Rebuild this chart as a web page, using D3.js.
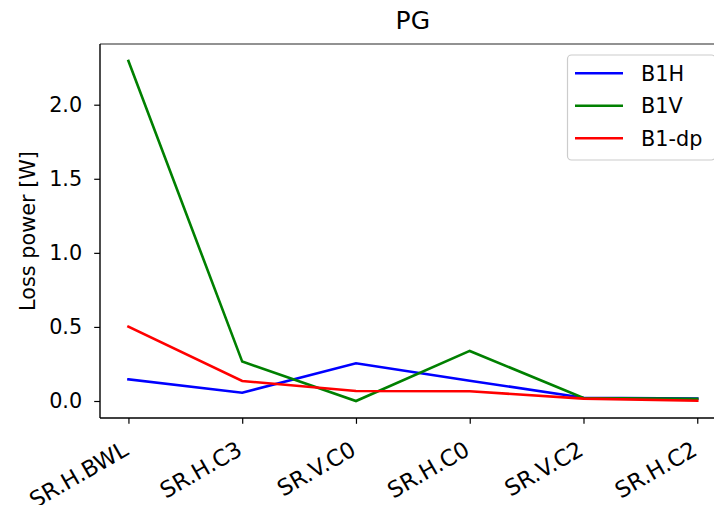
<!DOCTYPE html>
<html>
<head>
<meta charset="utf-8">
<script src="https://cdn.jsdelivr.net/npm/d3@7"></script>
<style>
  html, body { margin: 0; padding: 0; background: #fff; }
  svg { display: block; font-family: "DejaVu Sans", sans-serif; }
</style>
</head>
<body>
<svg id="chart" width="714" height="505"></svg>
<script>
// Loss power per source, one series per configuration
const categories = ["SR.H.BWL", "SR.H.C3", "SR.V.C0", "SR.H.C0", "SR.V.C2", "SR.H.C2"];
const b1h = [0.146, 0.056, 0.255, 0.137, 0.022, 0.017];
const b1v = [2.295, 0.266, 0.000, 0.338, 0.020, 0.015];
const b1dp = [0.502, 0.135, 0.068, 0.066, 0.016, 0.002];
const yTicks = [0.0, 0.5, 1.0, 1.5, 2.0];
const seriesNames = ["B1H", "B1V", "B1-dp"];

const series = [
  { name: seriesNames[0], values: b1h, color: "#0000ff" },
  { name: seriesNames[1], values: b1v, color: "#008000" },
  { name: seriesNames[2], values: b1dp, color: "#ff0000" }
];

const FONT = "20.8px";
const XFONT = "22.5px";
const svg = d3.select("#chart");
const plot = { left: 100, right: 725.7, top: 44, bottom: 418 };

// Index-based x scale with a quarter-step margin on each side
const x = d3.scaleLinear()
  .domain([-0.25, categories.length - 1 + 0.25])
  .range([plot.left, plot.right]);

const allVals = b1h.concat(b1v, b1dp);
const yMin = d3.min(allVals), yMax = d3.max(allVals);
const pad = (yMax - yMin) * 0.05;
const y = d3.scaleLinear()
  .domain([yMin - pad, yMax + pad])
  .range([plot.bottom, plot.top]);

// Clip region for the data lines
svg.append("clipPath").attr("id", "plotClip")
  .append("rect")
  .attr("x", plot.left).attr("y", plot.top)
  .attr("width", plot.right - plot.left).attr("height", plot.bottom - plot.top);

const line = d3.line()
  .x((d, i) => x(i))
  .y(d => y(d));

const lines = svg.append("g").attr("clip-path", "url(#plotClip)");
series.forEach(s => {
  lines.append("path")
    .datum(s.values)
    .attr("d", line)
    .attr("fill", "none")
    .attr("stroke", s.color)
    .attr("stroke-width", 2.6)
    .attr("stroke-linejoin", "miter")
    .attr("stroke-linecap", "square");
});

// Frame
svg.append("line")
  .attr("x1", plot.left).attr("x2", plot.right)
  .attr("y1", plot.top).attr("y2", plot.top)
  .attr("stroke", "#6e6e6e").attr("stroke-width", 1.3);
svg.append("line")
  .attr("x1", plot.right).attr("x2", plot.right)
  .attr("y1", plot.top).attr("y2", plot.bottom)
  .attr("stroke", "#000").attr("stroke-width", 1.3);

// Y axis
const yAxis = d3.axisLeft(y)
  .tickValues(yTicks)
  .tickFormat(d3.format(".1f"))
  .tickSize(5.8)
  .tickPadding(12);
const gy = svg.append("g")
  .attr("transform", `translate(${plot.left},0)`)
  .call(yAxis);
gy.attr("font-size", null).attr("font-family", null);
gy.select(".domain").remove();
gy.selectAll(".tick line").attr("stroke", "#000").attr("stroke-width", 1.2);
gy.selectAll(".tick text")
  .attr("fill", "#000")
  .style("font-size", FONT);
svg.append("line")
  .attr("x1", plot.left).attr("x2", plot.left)
  .attr("y1", plot.top).attr("y2", plot.bottom)
  .attr("stroke", "#000").attr("stroke-width", 1.4);

// X axis with rotated labels
const xAxis = d3.axisBottom(x)
  .tickValues(d3.range(categories.length))
  .tickFormat(i => categories[i])
  .tickSize(5.8);
const gx = svg.append("g")
  .attr("transform", `translate(0,${plot.bottom})`)
  .call(xAxis);
gx.attr("font-size", null).attr("font-family", null);
gx.select(".domain").remove();
gx.selectAll(".tick line").attr("stroke", "#000").attr("stroke-width", 1.2);
gx.selectAll(".tick text")
  .attr("fill", "#000")
  .style("font-size", XFONT)
  .attr("text-anchor", "end")
  .attr("dy", null)
  .attr("y", null)
  .attr("transform", "translate(1,36) rotate(-30)");
svg.append("line")
  .attr("x1", plot.left).attr("x2", plot.right)
  .attr("y1", plot.bottom).attr("y2", plot.bottom)
  .attr("stroke", "#000").attr("stroke-width", 1.4);

// Y axis title
svg.append("text")
  .attr("transform", `translate(35,${(plot.top + plot.bottom) / 2}) rotate(-90)`)
  .attr("text-anchor", "middle")
  .style("font-size", FONT)
  .text("Loss power [W]");

// Chart title
svg.append("text")
  .attr("x", (plot.left + plot.right) / 2)
  .attr("y", 29)
  .attr("text-anchor", "middle")
  .style("font-size", "25px")
  .text("PG");

// Legend
const legend = svg.append("g");
const lgX = 567.5, lgY = 55, lgW = 148, lgH = 105;
legend.append("rect")
  .attr("x", lgX).attr("y", lgY)
  .attr("width", lgW).attr("height", lgH)
  .attr("rx", 4).attr("ry", 4)
  .attr("fill", "#fff").attr("fill-opacity", 0.8)
  .attr("stroke", "#cccccc").attr("stroke-width", 1.2);
series.forEach((s, i) => {
  const cy = 73.3 + i * 32.5;
  legend.append("line")
    .attr("x1", 575).attr("x2", 623)
    .attr("y1", cy).attr("y2", cy)
    .attr("stroke", s.color).attr("stroke-width", 2.6);
  legend.append("text")
    .attr("x", 641).attr("y", cy)
    .attr("dy", "0.36em")
    .style("font-size", FONT)
    .text(s.name);
});
</script>
</body>
</html>
